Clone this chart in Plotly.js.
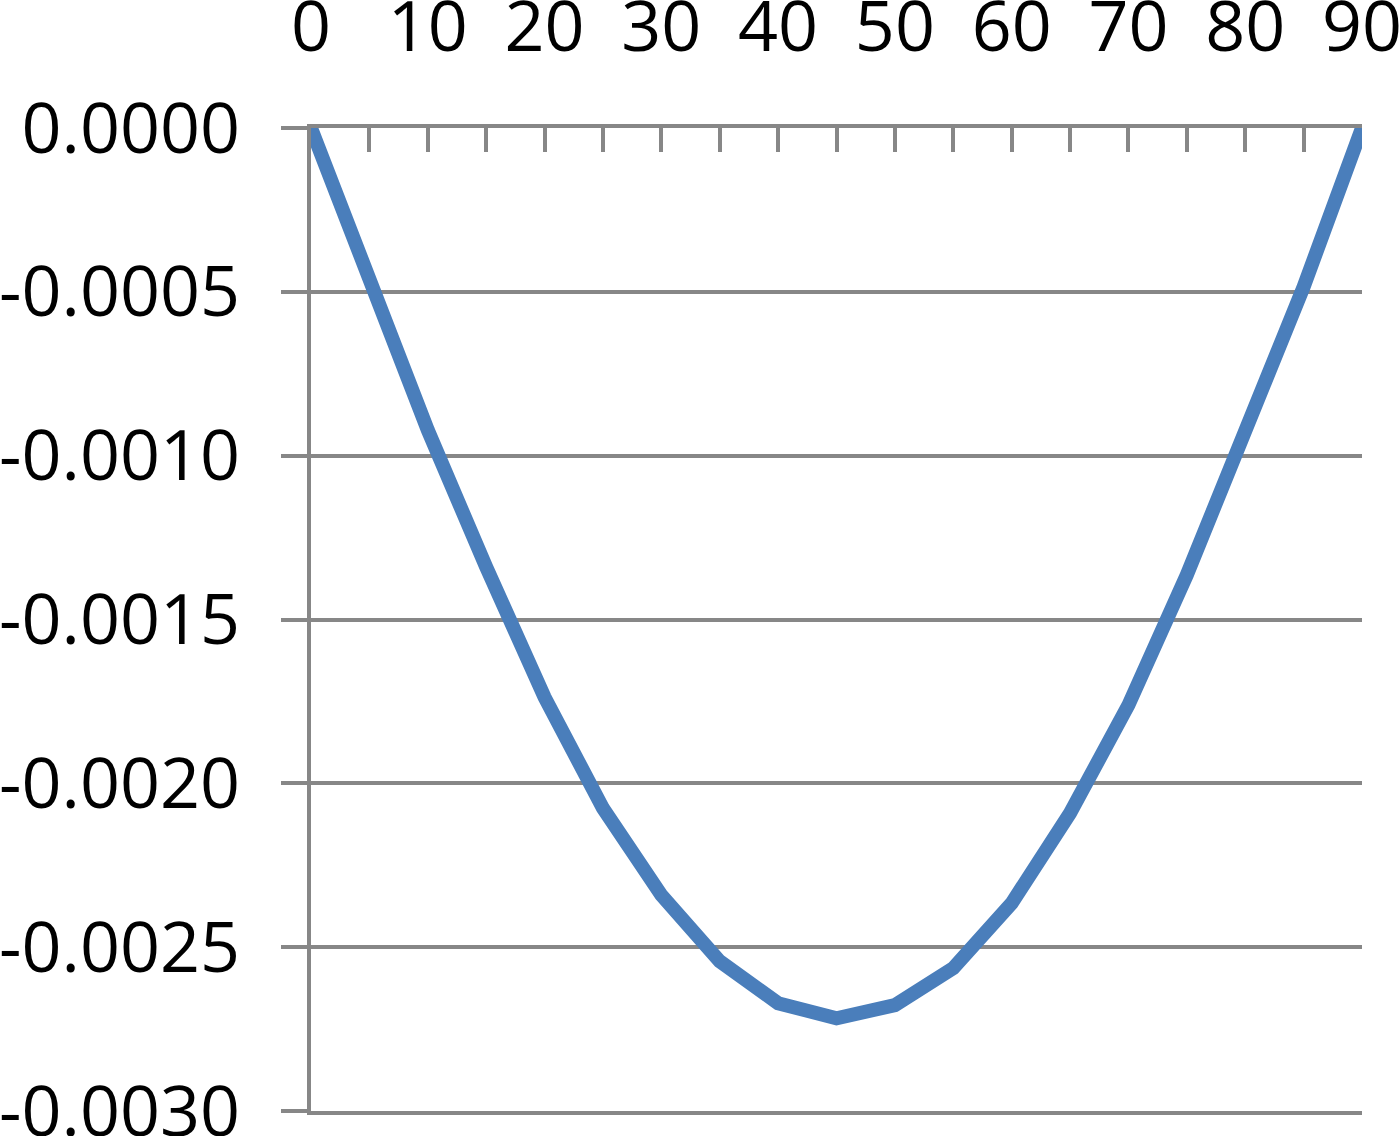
<!DOCTYPE html>
<html>
<head>
<meta charset="utf-8">
<script src="https://cdn.plot.ly/plotly-3.0.1.min.js"></script>
<style>
  html, body { margin: 0; padding: 0; background: #fff; }
  #plotId { width: 1400px; height: 1136px; }
</style>
</head>
<body>
<div id="plotId"></div>
<script>
// angle (deg) and the value every 5 degrees
const angles = [0, 5, 10, 15, 20, 25, 30, 35, 40, 45, 50, 55, 60, 65, 70, 75, 80, 85, 90];
const values = [0, -0.000465, -0.000922, -0.00134, -0.001737, -0.002076, -0.002341, -0.002543,
  -0.002671, -0.002717, -0.002677, -0.002564, -0.002366, -0.002091, -0.001761, -0.001364,
  -0.000931, -0.000485, 0];

const xTickVals = [0, 5, 10, 15, 20, 25, 30, 35, 40, 45, 50, 55, 60, 65, 70, 75, 80, 85, 90];
const xTickText = ['0', '', '10', '', '20', '', '30', '', '40', '', '50', '', '60', '', '70', '', '80', '', '90'];
const yTickVals = [0, -0.0005, -0.001, -0.0015, -0.002, -0.0025, -0.003];
const yTickText = ['0.0000', '-0.0005', '-0.0010', '-0.0015', '-0.0020', '-0.0025', '-0.0030'];

const axisGrey = '#878787';

const trace = {
    x: angles,
    y: values,
    type: 'scatter',
    mode: 'lines',
    line: { color: '#4a7ebb', width: 14 },
    hoverinfo: 'none'
};

const layout = {
    width: 1400,
    height: 1136,
    margin: { l: 311, r: 38, t: 128, b: 25 },
    paper_bgcolor: '#ffffff',
    plot_bgcolor: '#ffffff',
    showlegend: false,
    font: { family: '"Open Sans", sans-serif', color: '#000000' },
    xaxis: {
        side: 'top',
        range: [0, 90],
        tickmode: 'array',
        tickvals: xTickVals,
        ticktext: xTickText,
        ticks: 'inside',
        ticklen: 24,
        tickwidth: 4,
        tickcolor: axisGrey,
        ticklabelstandoff: 45,
        ticklabeloverflow: 'allow',
        tickfont: { size: 70 },
        showline: true,
        mirror: true,   // bottom line stands in for the -0.0030 grid line
        linecolor: axisGrey,
        linewidth: 4,
        showgrid: false,
        zeroline: false,
        fixedrange: true
    },
    yaxis: {
        range: [-0.003, 0],
        tickmode: 'array',
        tickvals: yTickVals,
        ticktext: yTickText,
        ticks: 'outside',
        ticklen: 26,
        tickwidth: 4,
        tickcolor: axisGrey,
        ticklabelstandoff: 27,
        ticklabeloverflow: 'allow',
        tickfont: { size: 70 },
        showline: true,
        linecolor: axisGrey,
        linewidth: 4,
        showgrid: true,
        gridcolor: axisGrey,
        gridwidth: 4,
        zeroline: false,
        fixedrange: true
    }
};

Plotly.newPlot('plotId', [trace], layout, { displayModeBar: false, staticPlot: true });
</script>
</body>
</html>
